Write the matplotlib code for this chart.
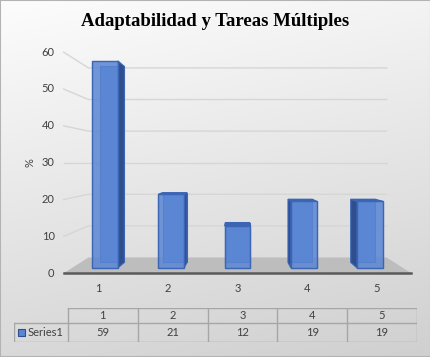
import numpy as np
import matplotlib
matplotlib.use('Agg')
import matplotlib.pyplot as plt
from matplotlib.patches import Polygon, Rectangle

# data
categories = [1, 2, 3, 4, 5]
values = [59, 21, 12, 19, 19]
series_name = 'Series1'
y_ticks = [0, 10, 20, 30, 40, 50, 60]
title = 'Adaptabilidad y Tareas Múltiples'

plt.rcParams['font.family'] = ['Lato', 'DejaVu Sans']

W, H = 431, 357
fig = plt.figure(figsize=(W / 100, H / 100), dpi=100)

# background gradient
bg = fig.add_axes([0, 0, 1, 1], zorder=0)
yy, xx = np.mgrid[0:1:200j, 0:1:200j]
shade = 0.99 - 0.14 * yy - 0.035 * xx
bg.imshow(np.dstack([shade] * 3), extent=[0, 1, 0, 1], origin='upper', aspect='auto')
bg.add_patch(Rectangle((0, 0), 1, 1, transform=bg.transAxes, fill=False,
                       edgecolor='#b3b3b3', lw=1.5))
bg.set_axis_off()

# plot axes: front plane in category / value units
ax = fig.add_axes([0, 0, 1, 1], zorder=1)
ax.patch.set_alpha(0)
PX_X, PX_Y = 66.25, 3.51
ax.set_xlim(1 - 105 / PX_X, 1 - 105 / PX_X + W / PX_X)
ax.set_ylim((268 - H) / PX_Y, 268 / PX_Y)
ax.set_axis_off()

XC, VC = 3.0, 30.0          # vanishing point
S_AXIS, S_WALL, S_BACK = 1.05, 0.9, 0.947
X_LO, X_HI = 0.5, 5.5
BW = 0.39


def proj(x, v, s):
    return XC + s * (x - XC), VC + s * (v - VC)


def face(pts, **kw):
    ax.add_patch(Polygon([proj(*p) for p in pts], closed=True, **kw))


# floor
face([(X_LO, 0, S_AXIS), (X_HI, 0, S_AXIS), (X_HI, 0, S_WALL), (X_LO, 0, S_WALL)],
     facecolor='#bdbdbd', edgecolor='none', zorder=1)
fx0, fy0 = proj(X_LO, 0, S_AXIS)
fx1, fy1 = proj(X_HI, 0, S_AXIS)
ax.plot([fx0, fx1], [fy0, fy1], color='#5a5a5a', lw=1.8, zorder=2)

# gridlines on side wall and back wall
for t in y_ticks[1:]:
    pts = [proj(X_LO, t, S_AXIS), proj(X_LO, t, S_WALL), proj(X_HI, t, S_WALL)]
    ax.plot([p[0] for p in pts], [p[1] for p in pts], color='#d6d6d6', lw=1.0, zorder=1)

# y tick labels
for t in y_ticks:
    ax.annotate(str(t), xy=proj(X_LO, t, S_AXIS), xytext=(-6.5, 0),
                textcoords='offset points', ha='right', va='center',
                fontsize=8, color='#404040')

# category labels
for c in categories:
    ax.annotate(str(c), xy=proj(c, 0, S_AXIS), xytext=(0, -11),
                textcoords='offset points', ha='center', va='center',
                fontsize=8, color='#404040')

ax.text(30 / W * (ax.get_xlim()[1] - ax.get_xlim()[0]) + ax.get_xlim()[0],
        VC, '%', rotation=90, ha='center', va='center', fontsize=8, color='#404040')

# bars
FRONT = '#5a86d4'
EDGE = '#3c66b5'
SIDE = '#2f4e8e'
TOP = '#3d65b0'
for c, v in zip(categories, values):
    xl, xr = c - BW / 2, c + BW / 2
    z = 3
    face([(xl, 0, S_BACK), (xr, 0, S_BACK), (xr, v, S_BACK), (xl, v, S_BACK)],
         facecolor=FRONT, edgecolor=EDGE, lw=0.8, zorder=z)
    left = [(xl, 0, 1), (xl, 0, S_BACK), (xl, v, S_BACK), (xl, v, 1)]
    right = [(xr, 0, 1), (xr, 0, S_BACK), (xr, v, S_BACK), (xr, v, 1)]
    top = [(xl, v, 1), (xr, v, 1), (xr, v, S_BACK), (xl, v, S_BACK)]
    if c < XC:
        face(right, facecolor=SIDE, edgecolor=EDGE, lw=0.8, zorder=z)
    elif c > XC:
        face(left, facecolor=SIDE, edgecolor=EDGE, lw=0.8, zorder=z)
    if v < VC:
        face(top, facecolor=TOP, edgecolor=EDGE, lw=0.8, zorder=z)
    face([(xl, 0, 1), (xr, 0, 1), (xr, v, 1), (xl, v, 1)],
         facecolor=FRONT, edgecolor=EDGE, lw=0.9, alpha=0.85, zorder=z + 1)
    face([(xl, 0, 1), (xr, 0, 1), (xr, v, 1), (xl, v, 1)],
         facecolor='none', edgecolor=EDGE, lw=0.9, zorder=z + 1)

# title
fig.text(215 / W, 1 - 21 / H, title, ha='center', va='center',
         fontsize=13.5, fontweight='bold', family='Liberation Serif', color='black')

# data table
tab = fig.add_axes([14 / W, 1 - 342 / H, 403 / W, 34 / H], zorder=2)
tab.set_xlim(-54 / 70, 5)
tab.set_ylim(0, 34)
tab.set_axis_off()
LC = '#a6a6a6'
n = len(categories)
tab.plot([0, n], [34, 34], color=LC, lw=1)
tab.plot([-54 / 70, n], [19, 19], color=LC, lw=1)
tab.plot([-54 / 70, n], [0, 0], color=LC, lw=1)
tab.plot([-54 / 70, -54 / 70], [0, 19], color=LC, lw=1)
for k in range(n + 1):
    tab.plot([k, k], [0, 34], color=LC, lw=1)
for k, (c, v) in enumerate(zip(categories, values)):
    tab.text(k + 0.5, 26.5, str(c), ha='center', va='center', fontsize=8, color='#404040')
    tab.text(k + 0.5, 9.5, str(v), ha='center', va='center', fontsize=8, color='#404040')
tab.add_patch(Rectangle((-50 / 70, 6), 7 / 70, 7, facecolor=FRONT, edgecolor='#2f4e8e', lw=0.8))
tab.text(-40 / 70, 9.5, series_name, ha='left', va='center', fontsize=8, color='#404040')

fig.savefig('out.png', dpi=100)
